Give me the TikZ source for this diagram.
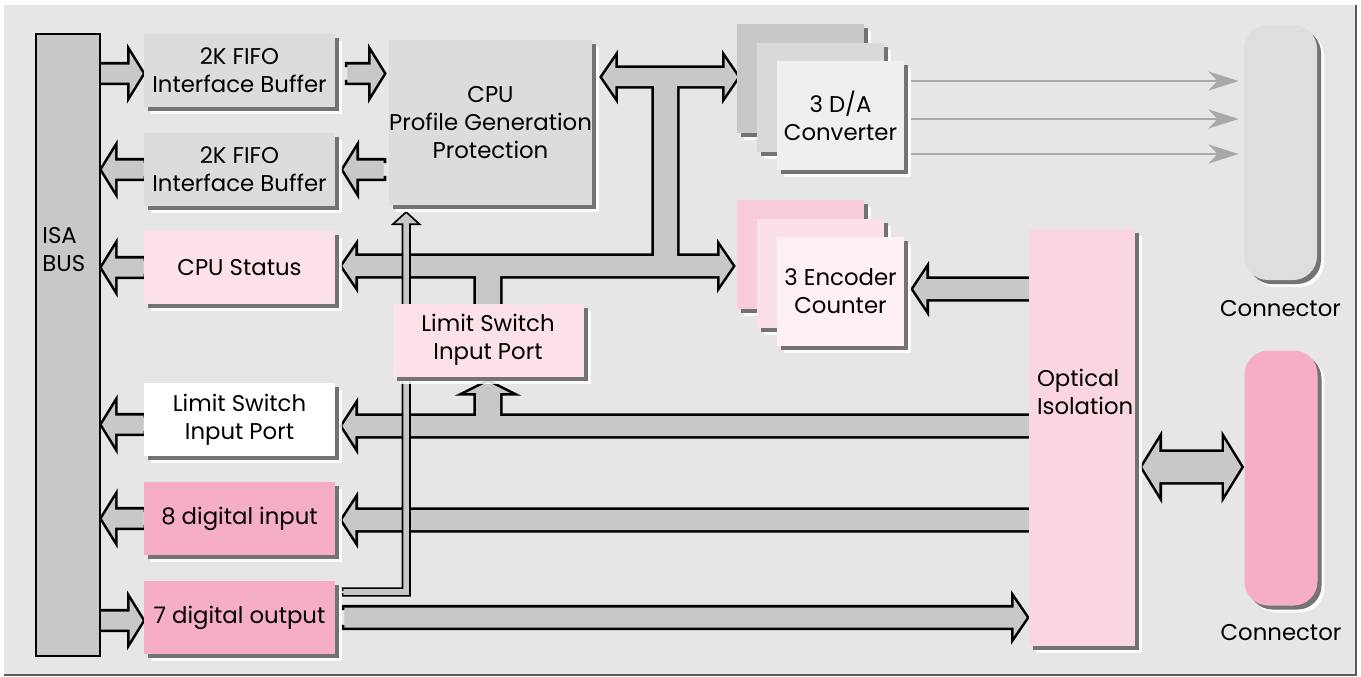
\documentclass[tikz,border=0pt]{standalone}
\usepackage{fontspec}
\setmainfont{Poppins}
\usepackage{xcolor}
\definecolor{panel}{HTML}{E6E6E6}
\definecolor{busgray}{HTML}{C8C8C8}
\definecolor{boxgray}{HTML}{DCDCDC}
\definecolor{softpink}{HTML}{FCE1E9}
\definecolor{hotpink}{HTML}{F5AEC6}
\definecolor{optpink}{HTML}{FAD6E0}
\definecolor{daback}{HTML}{C8C8C8}
\definecolor{damid}{HTML}{D9D9D9}
\definecolor{dafront}{HTML}{EFEFEF}
\definecolor{encback}{HTML}{F9CCDA}
\definecolor{encmid}{HTML}{FCE0E8}
\definecolor{encfront}{HTML}{FEF0F3}
\definecolor{conngray}{HTML}{DEDEDE}
\definecolor{arrowgray}{HTML}{A8A8A8}
\usepackage{tikz}
\usetikzlibrary{arrows.meta,calc,positioning,shadows,backgrounds}
\tikzset{
  lbl/.style={font=\fontsize{11.4}{14}\selectfont, text=black},
  shaft/.store in=\fatsw, headw/.store in=\fathw, headl/.store in=\fathl,
  shaft=4.5pt, headw=10.5pt, headl=6.5pt,
  fat open/.style={to path={
    ($(\tikztostart)!\fatsw!90:(\tikztotarget)$)
    -- ($(\tikztotarget)!\fathl!(\tikztostart)!\fatsw!90:(\tikztotarget)$)
    -- ($(\tikztotarget)!\fathl!(\tikztostart)!\fathw!90:(\tikztotarget)$)
    -- ($(\tikztotarget)$)
    -- ($(\tikztotarget)!\fathl!(\tikztostart)!\fathw!-90:(\tikztotarget)$)
    -- ($(\tikztotarget)!\fathl!(\tikztostart)!\fatsw!-90:(\tikztotarget)$)
    -- ($(\tikztostart)!\fatsw!-90:(\tikztotarget)$)}},
  fat closed/.style={to path={
    ($(\tikztostart)!\fatsw!90:(\tikztotarget)$)
    -- ($(\tikztotarget)!\fathl!(\tikztostart)!\fatsw!90:(\tikztotarget)$)
    -- ($(\tikztotarget)!\fathl!(\tikztostart)!\fathw!90:(\tikztotarget)$)
    -- ($(\tikztotarget)$)
    -- ($(\tikztotarget)!\fathl!(\tikztostart)!\fathw!-90:(\tikztotarget)$)
    -- ($(\tikztotarget)!\fathl!(\tikztostart)!\fatsw!-90:(\tikztotarget)$)
    -- ($(\tikztostart)!\fatsw!-90:(\tikztotarget)$) -- cycle}},
  fat2/.style={to path={
    ($(\tikztostart)$)
    -- ($(\tikztostart)!\fathl!(\tikztotarget)!\fathw!90:(\tikztotarget)$)
    -- ($(\tikztostart)!\fathl!(\tikztotarget)!\fatsw!90:(\tikztotarget)$)
    -- ($(\tikztotarget)!\fathl!(\tikztostart)!\fatsw!90:(\tikztotarget)$)
    -- ($(\tikztotarget)!\fathl!(\tikztostart)!\fathw!90:(\tikztotarget)$)
    -- ($(\tikztotarget)$)
    -- ($(\tikztotarget)!\fathl!(\tikztostart)!\fathw!-90:(\tikztotarget)$)
    -- ($(\tikztotarget)!\fathl!(\tikztostart)!\fatsw!-90:(\tikztotarget)$)
    -- ($(\tikztostart)!\fathl!(\tikztotarget)!\fatsw!-90:(\tikztotarget)$)
    -- ($(\tikztostart)!\fathl!(\tikztotarget)!\fathw!-90:(\tikztotarget)$)
    -- cycle}},
  stem open/.style={to path={
    ($(\tikztostart)!\fatsw!90:(\tikztotarget)$) -- ($(\tikztotarget)!\fatsw!-90:(\tikztostart)$)
    ($(\tikztostart)!\fatsw!-90:(\tikztotarget)$) -- ($(\tikztotarget)!\fatsw!90:(\tikztostart)$)}},
  stem closed/.style={to path={
    ($(\tikztostart)!\fatsw!90:(\tikztotarget)$) -- ($(\tikztotarget)!\fatsw!-90:(\tikztostart)$)
    -- ($(\tikztotarget)!\fatsw!90:(\tikztostart)$) -- ($(\tikztostart)!\fatsw!-90:(\tikztotarget)$) -- cycle}},
  busedge/.style={draw=black, line width=2.6pt, line join=miter, line cap=rect},
  busfill/.style={fill=busgray},
  boxshade/.style={drop shadow={shadow xshift=3.5pt, shadow yshift=-3.5pt, fill=white, opacity=.85},
    drop shadow={shadow xshift=2pt, shadow yshift=-2pt, fill=black!55, opacity=1}},
  daline/.style={draw=arrowgray, line width=1.3pt, -{Stealth[length=15pt, width=9.5pt, inset=4.5pt]}, shorten >=2.5pt},
}
\newcommand{\bus}[2][]{%
  \draw[busedge,#1,fat/.style={fat open},stem/.style={stem open}] #2;
  \fill[busfill,#1,fat/.style={fat closed},stem/.style={stem closed}] #2;}

\begin{document}
\begin{tikzpicture}[x=0.5pt, y=-0.5pt,
  blk/.style={lbl, boxshade, inner sep=0pt, align=center, minimum width=95.5pt, minimum height=36.5pt},
  stack/.style={lbl, boxshade, inner sep=0pt, align=center, minimum width=63.5pt, minimum height=54.5pt},
  conn/.style={boxshade, rounded corners=12pt, inner sep=0pt, minimum width=36.5pt, minimum height=127.5pt},
]
\useasboundingbox (0,0) rectangle (1361,676);
\node[draw=black, line width=1pt, fill=busgray, inner sep=0pt, minimum width=32pt, minimum height=311pt] (isa) at (68,345) {};
\node[lbl, align=left, anchor=west, inner sep=0pt] (isalbl) at ($(isa.west)+(7,-95)$) {ISA\\BUS};
\foreach \n/\y/\c/\txt in {fifoA/70.5/boxgray/{2K FIFO\\Interface Buffer}, fifoB/169.5/boxgray/{2K FIFO\\Interface Buffer},
  stat/267.5/softpink/{CPU Status}, lswA/419.5/white/{Limit Switch\\Input Port},
  din/518.5/hotpink/{8 digital input}, dout/617.5/hotpink/{7 digital output}}
  \node[blk, fill=\c] (\n) at (239.5,\y) {\txt};
\node[blk, fill=boxgray, minimum width=96.5pt, minimum height=82.5pt] (cpu) at (490.5,122.5) {CPU\\Profile Generation\\Protection};
\node[blk, fill=softpink] (lswB) at (488,340) {Limit Switch\\Input Port};
\foreach \n/\c/\txt [count=\k from 0] in {daB/daback/{}, daM/damid/{}, daF/dafront/{3 D/A\\Converter}}
  \node[stack, fill=\c] (\n) at (800.5+20*\k,78.5+18.5*\k) {\txt};
\foreach \n/\c/\txt [count=\k from 0] in {encB/encback/{}, encM/encmid/{}, encF/encfront/{3 Encoder\\Counter}}
  \node[stack, fill=\c] (\n) at (800.5+20*\k,254.5+18.5*\k) {\txt};
\node[boxshade, fill=optpink, inner sep=0pt, minimum width=53pt, minimum height=208.5pt] (opt) at (1082,437.5) {};
\node[lbl, align=left, anchor=west, inner sep=0pt] (optlbl) at ($(opt.west)+(8,-45.5)$) {Optical\\Isolation};
\node[conn, fill=conngray] (connA) at (1280.5,152.5) {};
\node[conn, fill=hotpink] (connB) at (1281,478) {};
\node[lbl] (connAlbl) at ($(connA.south)+(0,28)$) {Connector};
\node[lbl] (connBlbl) at ($(connB.south)+(0,27)$) {Connector};
\foreach \dy [count=\i] in {-34.5,3.5,38.5} {
  \coordinate (dao\i) at ($(daF.east)+(7,\dy)$);
  \draw[daline] (dao\i) -- (dao\i -| connA.west);
}
\begin{scope}[on background layer]
\fill[panel] (4,5) rectangle (1355.5,674.5);
\draw[black!65, line width=1pt] (1355.5,5) -- (1355.5,674.5) -- (4,674.5);
% left column
\bus{($(isa.east |- fifoA)+(-3,3)$) to[fat] ($(fifoA.west)+(-1,3)$)
  ($(fifoA.east)+(12,3)$) to[fat] ($(cpu.west |- fifoA)+(-5,3)$)
  ($(cpu.west |- fifoB)+(-5,0)$) to[fat] ($(fifoB.east)+(8,0)$)
  (fifoB.west) to[fat] ($(isa.east |- fifoB)+(1,0)$)
  (stat.west) to[fat] ($(isa.east |- stat)+(1,0)$)
  ($(lswA.west)+(0,5)$) to[fat] ($(isa.east |- lswA)+(1,5)$)
  (din.west) to[fat] ($(isa.east |- din)+(1,0)$)
  ($(isa.east |- dout)+(-3,3)$) to[fat] ($(dout.west)+(-1,3)$)}
% cpu bus
\coordinate (tee) at (665.5,77);
\bus{($(stat.east)+(7,-1.5)$) to[fat2, shaft=5pt, headw=9.5pt] ($(encB.west |- stat)+(-4,-1.5)$)
  ($(cpu.east |- daB.west)+(10,-1.5)$) to[fat2, headw=9.5pt] ($(daB.west)+(1,-1.5)$)
  (tee) to[stem, shaft=5.75pt] (tee |- stat)
  (lswB.north |- stat) to[stem, shaft=6pt] ($(lswB.north)+(0,4)$)}
% limit switch
\bus{($(opt.west |- lswA)+(4,6.5)$) to[fat, shaft=5pt, headw=10pt] ($(lswA.east)+(7,6.5)$)
  ($(lswB.south |- lswA)+(0,6.5)$) to[fat, shaft=6pt, headw=11pt, headl=5.5pt] ($(lswB.south)+(0,5)$)}
\bus{($(opt.west |- din)+(4,1.5)$) to[fat, shaft=5pt, headw=10pt] ($(din.east)+(7,1.5)$)}
\bus{($(dout.east)+(9,0)$) to[fat, shaft=5pt, headw=9.5pt] ($(opt.west |- dout)+(-2,0)$)}
\bus{($(opt.west |- encF)+(4,-2.5)$) to[fat, shaft=5pt, headw=9.75pt] ($(encF.east)+(9,-2.5)$)}
\coordinate (iso) at ($(opt.east)+(7,29.5)$);
\bus{(iso) to[fat2, shaft=7.5pt, headw=13.75pt, headl=8.5pt] ($(iso -| connB.west)+(-3,0)$)}
% thin feed
\coordinate (thin) at ($(dout.east)+(8,-25.5)$);
\coordinate (thinup) at ($(cpu.south west)+(17.5,8)$);
\bus[line width=1.8pt, shaft=1.4pt]{(thin) to[stem] ($(thin -| thinup)+(2.8,0)$)
  ($(thin -| thinup)+(0,2.8)$) to[fat, headw=5.5pt, headl=5pt] (thinup)}
\end{scope}
\end{tikzpicture}
\end{document}
